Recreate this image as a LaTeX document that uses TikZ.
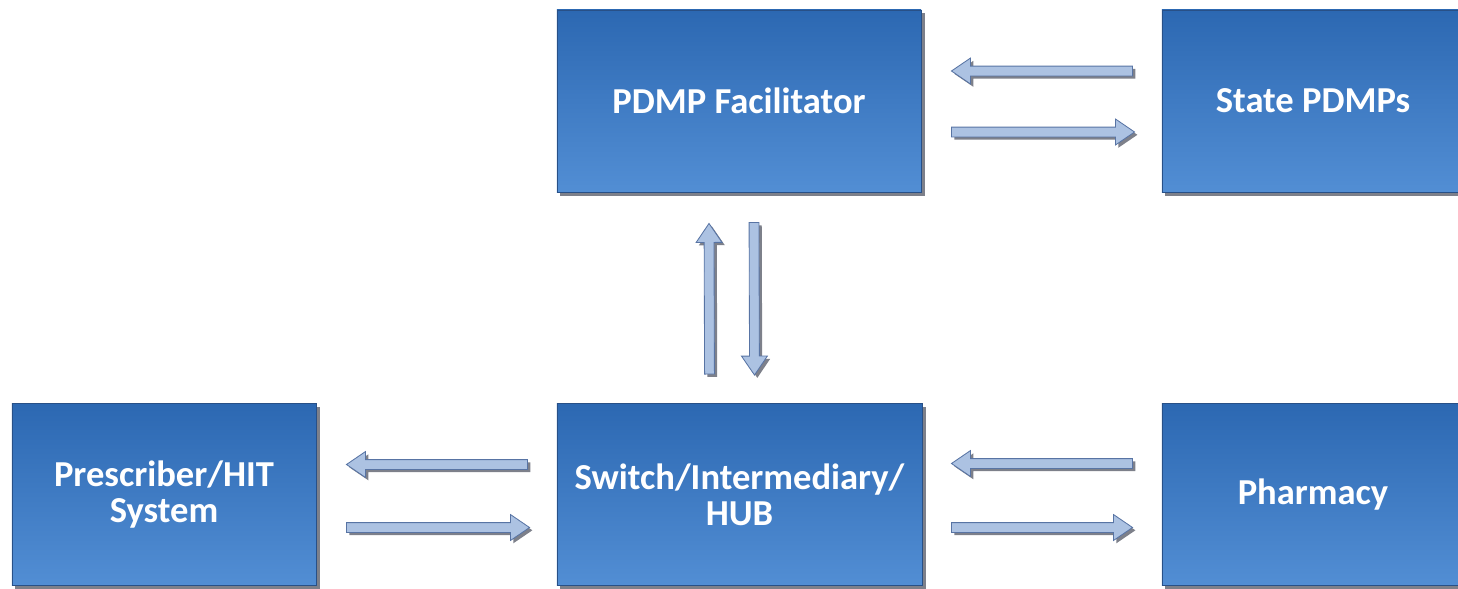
\documentclass[tikz,border=0pt]{standalone}
\usepackage{fontspec}
\setmainfont{Carlito}
\usetikzlibrary{calc,shadows}
\definecolor{boxtop}{RGB}{44,104,178}
\definecolor{boxbot}{RGB}{82,142,212}
\definecolor{boxline}{RGB}{40,80,135}
\definecolor{arrowfill}{RGB}{172,194,226}
\definecolor{arrowline}{RGB}{88,116,164}
\definecolor{shade}{RGB}{125,128,138}
\begin{document}
\begin{tikzpicture}[x=0.025cm, y=-0.025cm,
  box/.style={draw=boxline, line width=0.6pt, top color=boxtop, bottom color=boxbot, minimum height=4.55cm, inner sep=0pt, text=white, align=center, font=\bfseries\fontsize{26}{25.5}\selectfont, drop shadow={shadow xshift=2.5pt, shadow yshift=-2.5pt, fill=shade, opacity=1}},
  flow/.style={draw=arrowline, line width=0.6pt, fill=arrowfill, drop shadow={shadow xshift=2pt, shadow yshift=-2pt, fill=shade, opacity=1},
    to path={let \p1=(\tikztostart), \p2=(\tikztotarget), \n1={atan2(\y2-\y1,\x2-\x1)}, \n2={veclen(\x2-\x1,\y2-\y1)} in
      ([shift={(\p1)},rotate=\n1]0pt,3.5pt) -- ([shift={(\p1)},rotate=\n1]{\n2-13.5pt},3.5pt) -- ([shift={(\p1)},rotate=\n1]{\n2-13.5pt},9.2pt)
      -- ([shift={(\p1)},rotate=\n1]{\n2},0pt) -- ([shift={(\p1)},rotate=\n1]{\n2-13.5pt},-9.2pt) -- ([shift={(\p1)},rotate=\n1]{\n2-13.5pt},-3.5pt)
      -- ([shift={(\p1)},rotate=\n1]0pt,-3.5pt) -- cycle}}]
\useasboundingbox (0,0) rectangle (1458,588);
\node[box, minimum width=9.1cm] (pdmp) at (739,101) {PDMP Facilitator};
\node[box, minimum width=7.55cm] (state) at (1313,101) {State PDMPs};
\node[box, minimum width=7.6cm] (hit) at (164,494.5) {Prescriber/HIT\\System};
\node[box, minimum width=9.125cm] (hub) at (739.5,494.5) {Switch/Intermediary/\\HUB};
\node[box, minimum width=7.55cm] (pharm) at (1313,494.5) {Pharmacy};
\draw[flow] ($(state.west)+(-29,-30)$) to ($(pdmp.east)+(30,-30)$);
\draw[flow] ($(pdmp.east)+(30,31)$) to ($(state.west)+(-27,31)$);
\draw[flow] ($(hub.north)+(-30,-29)$) to ($(pdmp.south)+(-30,31)$);
\draw[flow] ($(pdmp.south)+(15,30)$) to ($(hub.north)+(15,-28)$);
\draw[flow] ($(hub.west)+(-29,-30)$) to ($(hit.east)+(30,-30)$);
\draw[flow] ($(hit.east)+(30,33)$) to ($(hub.west)+(-27,33)$);
\draw[flow] ($(pharm.west)+(-29,-31)$) to ($(hub.east)+(29,-31)$);
\draw[flow] ($(hub.east)+(29,33)$) to ($(pharm.west)+(-29,33)$);
\end{tikzpicture}
\end{document}
